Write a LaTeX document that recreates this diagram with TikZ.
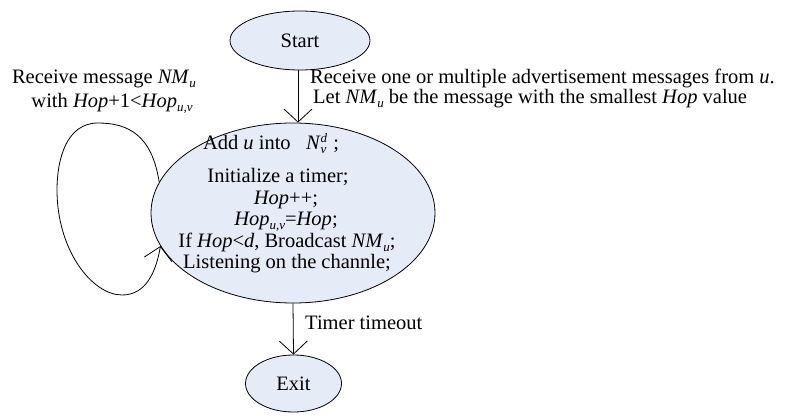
\documentclass[tikz,border=0pt]{standalone}
\usepackage{fontspec}
\setmainfont{Liberation Serif}
\usetikzlibrary{shapes.geometric,arrows.meta}
\definecolor{stfill}{RGB}{230,236,247}
\tikzset{
  state/.style={ellipse, draw, fill=stfill, line width=0.8pt, inner sep=0pt},
  arr/.style={line width=0.8pt, -{Straight Barb[length=13pt,width=28pt,line width=0.8pt]}},
  txt/.style={inner sep=0pt, anchor=base},
  lbl/.style={inner sep=0pt, anchor=base west},
}
\newcommand{\sbs}[1]{\raisebox{-4pt}{\fontsize{13}{13}\selectfont\textit{#1}}}
\begin{document}
\begin{tikzpicture}[x=1pt,y=-1pt,font=\fontsize{20.5}{22}\selectfont]
\useasboundingbox[fill=white] (0,0) rectangle (787,415);
\node[state, minimum width=140, minimum height=59] (start) at (300,40.5) {Start};
\node[state, minimum width=284, minimum height=180] (main) at (293,213) {};
\node[state, minimum width=96, minimum height=57] (exit) at (293.5,383.5) {Exit};

\node[txt] (l1) at (271,149) {Add \textit{u} into\ \ \ \textit{N}\makebox[7pt][l]{\sbs{v}}\hspace{-7pt}\raisebox{7pt}{\fontsize{13}{13}\selectfont\textit{d}}\hspace{6pt};};
\node[txt] (l2) at (278,182) {Initialize a timer;};
\node[txt] (l3) at (286,204) {\textit{Hop}++;};
\node[txt] (l4) at (286,225.5) {\textit{Hop}\sbs{u,v}=\textit{Hop};};
\node[txt] (l5) at (287,247) {If \textit{Hop}<\textit{d}, Broadcast \textit{NM}\sbs{u};};
\node[txt] (l6) at (287,268.5) {Listening on the channle;};

\draw[arr] (start.south -| 298,0) -- (main.north -| 298,0);
\draw[arr] (main.south) -- (exit.north);

\draw[arr] (main.167) .. controls (152,135) and (128,123) .. (98,123)
  .. controls (66,123) and (57,160) .. (57,190)
  .. controls (57,250) and (92,295) .. (122,295)
  .. controls (146,295) and (156,272) .. (main.194);

\node[txt] (r1) at (104,83) {Receive message \textit{NM}\sbs{u}};
\node[txt] (r2) at (112,107) {with \textit{Hop}+1<\textit{Hop}\sbs{u,v}};

\node[lbl] (a1) at (310,83) {Receive one or multiple advertisement messages from \textit{u}.};
\node[lbl] (a2) at (313,103.5) {Let \textit{NM}\sbs{u} be the message with the smallest \textit{Hop} value};
\node[lbl] (t1) at (305,329) {Timer timeout};
\end{tikzpicture}
\end{document}
